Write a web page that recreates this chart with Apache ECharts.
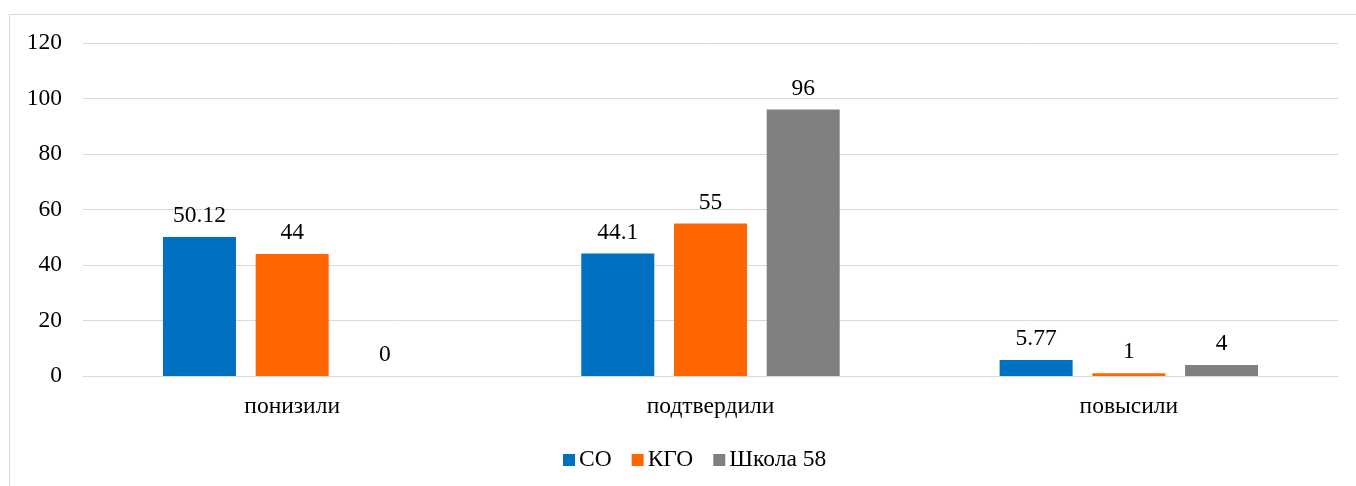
<!DOCTYPE html>
<html>
<head>
<meta charset="utf-8">
<script src="https://cdn.jsdelivr.net/npm/echarts@6/dist/echarts.min.js"></script>
<style>
html,body{margin:0;padding:0;background:#fff;}
#frame{position:absolute;left:9px;top:14px;width:1360px;height:500px;border:1px solid #d9d9d9;box-sizing:border-box;}
#chart{position:absolute;left:0;top:0;width:1356px;height:486px;}
</style>
</head>
<body>
<div id="frame"></div>
<div id="chart"></div>
<script>
const categories = ['понизили', 'подтвердили', 'повысили'];
const seriesNames = ['СО', 'КГО', 'Школа 58'];
const valuesSO = [50.12, 44.1, 5.77];
const valuesKGO = [44, 55, 1];
const valuesSchool = [0, 96, 4];
const yTicks = [0, 20, 40, 60, 80, 100, 120];
const colors = ['#0070C0', '#FF6600', '#808080'];

const font = '"Liberation Serif", "Times New Roman", serif';
const fs = 23.5;
const chart = echarts.init(document.getElementById('chart'), null, {renderer: 'canvas'});
const dataSets = [valuesSO, valuesKGO, valuesSchool];
chart.setOption({
  animation: false,
  textStyle: {fontFamily: font},
  grid: {left: 83, right: 18, top: 43, bottom: 110, containLabel: false},
  legend: {
    top: 443, left: 558,
    itemWidth: 12, itemHeight: 12, itemGap: 20,
    icon: 'rect',
    textStyle: {fontFamily: font, fontSize: fs, color: '#000', padding: [0,0,0,-1]},
    data: seriesNames
  },
  xAxis: {
    type: 'category', data: categories,
    axisLine: {lineStyle: {color: '#d9d9d9', width: 1}},
    axisTick: {show: false},
    axisLabel: {fontFamily: font, fontSize: fs, color: '#000', margin: 19}
  },
  yAxis: {
    type: 'value', min: 0, max: 120, interval: 20,
    axisLine: {show: false}, axisTick: {show: false},
    splitLine: {lineStyle: {color: '#d9d9d9', width: 1}},
    axisLabel: {fontFamily: font, fontSize: fs, color: '#000', margin: 21,
      formatter: v => yTicks.includes(v) ? String(v) : ''}
  },
  series: seriesNames.map((n, i) => ({
    name: n, type: 'bar', data: dataSets[i],
    barWidth: 73, barGap: '27%',
    itemStyle: {color: colors[i]},
    label: {show: true, position: 'top', distance: 9, fontFamily: font, fontSize: fs, color: '#000'}
  }))
});
</script>
</body>
</html>
